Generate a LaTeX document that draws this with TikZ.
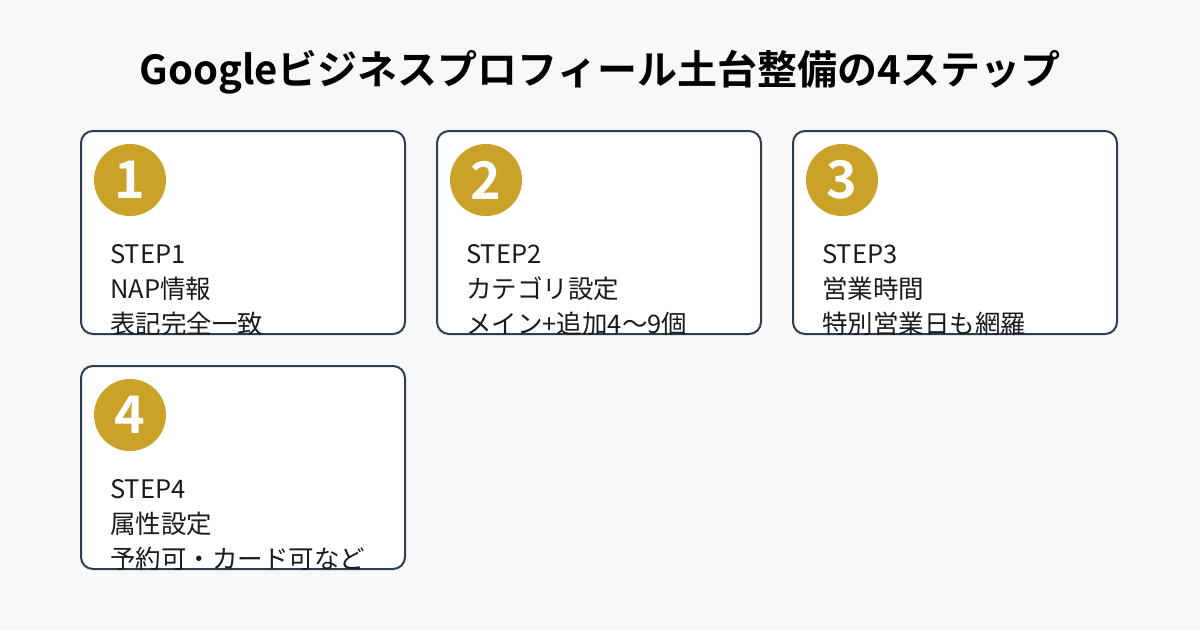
\documentclass[tikz,border=0pt]{standalone}
\usepackage{fontspec}
\setmainfont{Noto Sans CJK JP}
\newfontfamily\cjkbold{Noto Sans CJK JP Bold}
\definecolor{bg}{HTML}{F8F8F8}
\definecolor{frame}{HTML}{2C3E50}
\definecolor{gold}{HTML}{C9A227}
\definecolor{ink}{HTML}{1A1A1A}
\tikzset{
 card/.style={draw=frame,line width=2pt,fill=white,rounded corners=12pt},
 badge/.style={circle,fill=gold,minimum size=72pt,inner sep=0pt,text=white,font=\cjkbold\fontsize{52}{52}\selectfont},
 line/.style={anchor=base west,inner sep=0pt,text=ink,font=\fontsize{25.5}{25.5}\selectfont}
}
\begin{document}
\begin{tikzpicture}[x=1pt,y=-1pt]
\fill[bg] (0,0) rectangle (1200,630);
\useasboundingbox (0,0) rectangle (1200,630);
\node[font=\cjkbold\fontsize{40}{40}\selectfont,text=black] (title) at (600,72) {Googleビジネスプロフィール土台整備の4ステップ};
\foreach \x/\y/\n/\a/\b/\c in {81/131/1/STEP1/NAP情報/表記完全一致,437/131/2/STEP2/カテゴリ設定/メイン+追加4〜9個,793/131/3/STEP3/営業時間/特別営業日も網羅,81/366/4/STEP4/属性設定/予約可・カード可など}{
 \draw[card] (\x,\y) rectangle ++(324,203);
 \node[badge] (b\n) at (\x+49,\y+49) {\n};
 \node[line] (s\n) at (\x+29,\y+132) {\a};
 \node[line] (t\n) at (\x+29,\y+167) {\b};
 \node[line] (u\n) at (\x+29,\y+202) {\c};
}
\end{tikzpicture}
\end{document}
